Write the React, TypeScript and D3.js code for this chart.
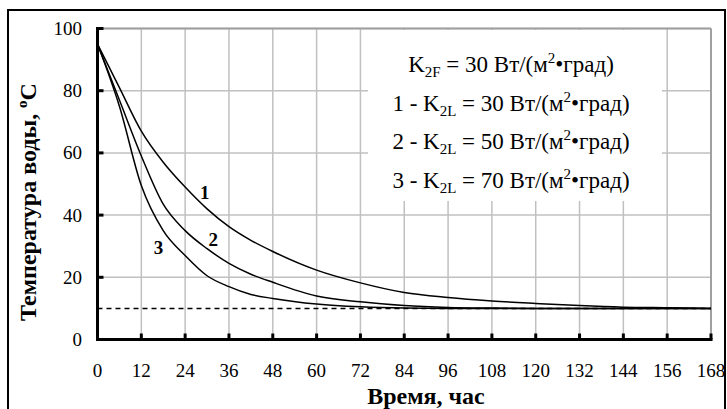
import React from "react";
import * as d3 from "d3";

// time, hours
const hours = [0, 6, 12, 18, 24, 30, 36, 42, 48, 60, 72, 84, 96, 108, 120, 132, 144, 156, 168];
// water temperature, °C
const curve1 = [95, 81, 67, 57, 49, 42, 36.3, 31.9, 28.3, 22.3, 18.2, 15.1, 13.5, 12.4, 11.6, 10.9, 10.4, 10.2, 10];
const curve2 = [95, 77, 59, 43.5, 35, 29.2, 24.5, 21, 18.4, 14, 12.1, 10.9, 10.3, 10.1, 10, 10, 10, 10, 10];
const curve3 = [95, 75, 49.5, 35, 27, 20.5, 17, 14.5, 13.2, 11.4, 10.5, 10.1, 10, 10, 10, 10, 10, 10, 10];
const limitTemp = 10;

const xTicks = d3.range(0, 169, 12);
const yTicks = [0, 20, 40, 60, 80, 100];

const curveLabels = [
  { text: "1", t: 29.4, v: 47.4 },
  { text: "2", t: 31.7, v: 32 },
  { text: "3", t: 16.7, v: 29.5 },
];

const legendLines = [
  { pre: "", sub: "2F", val: "30" },
  { pre: "1 - ", sub: "2L", val: "30" },
  { pre: "2 - ", sub: "2L", val: "50" },
  { pre: "3 - ", sub: "2L", val: "70" },
];

const font = "Liberation Serif";

export default function App() {
  const x = d3.scaleLinear().domain([0, 168]).range([97.5, 711]);
  const y = d3.scaleLinear().domain([0, 100]).range([339.5, 28.5]);

  const line = d3
    .line<number>()
    .x((_, i) => x(hours[i]))
    .y((d) => y(d))
    .curve(d3.curveMonotoneX);

  const series = [curve1, curve2, curve3];

  return (
    <svg width={727} height={409} style={{ position: "absolute", left: 0, top: 0, background: "#fff" }}>
      <rect x={0} y={0} width={727} height={409} fill="#fff" />
      {/* outer frame */}
      <rect x={8} y={10} width={717} height={420} fill="none" stroke="#000" strokeWidth={2} />

      {/* grid */}
      {xTicks.map((t) => (
        <line key={"gx" + t} x1={x(t)} x2={x(t)} y1={y(0)} y2={y(100)} stroke="#c0c0c0" strokeWidth={1.5} />
      ))}
      {yTicks.map((v) => (
        <line key={"gy" + v} x1={x(0)} x2={x(168)} y1={y(v)} y2={y(v)} stroke="#c0c0c0" strokeWidth={1.5} />
      ))}
      {/* plot border top/right */}
      <line x1={x(0)} x2={x(168)} y1={y(100)} y2={y(100)} stroke="#a0a0a0" strokeWidth={2} />
      <line x1={x(168)} x2={x(168)} y1={y(100)} y2={y(0)} stroke="#a0a0a0" strokeWidth={2} />

      {/* legend box */}
      <rect x={368} y={30} width={294} height={171} fill="#fff" />
      {legendLines.map((l, i) => (
        <text key={i} x={511} y={72 + i * 38.5} textAnchor="middle" style={{ fontFamily: font, fontSize: 23 }}>
          {l.pre}K
          <tspan style={{ fontSize: 15 }} dy={5}>{l.sub}</tspan>
          <tspan dy={-5}>{" = " + l.val + " Вт/(м"}</tspan>
          <tspan style={{ fontSize: 15 }} dy={-9}>2</tspan>
          <tspan dy={9}>•град)</tspan>
        </text>
      ))}

      {/* limit line */}
      <line
        x1={x(0)}
        x2={x(168)}
        y1={y(limitTemp)}
        y2={y(limitTemp)}
        stroke="#000"
        strokeWidth={1.5}
        strokeDasharray="5,4"
      />

      {/* curves */}
      {series.map((s, i) => (
        <path key={i} d={line(s) || ""} fill="none" stroke="#000" strokeWidth={1.5} />
      ))}
      {curveLabels.map((c) => (
        <text
          key={c.text}
          x={x(c.t)}
          y={y(c.v)}
          textAnchor="middle"
          dominantBaseline="central"
          style={{ fontFamily: font, fontSize: 19, fontWeight: "bold" }}
        >
          {c.text}
        </text>
      ))}

      {/* axes */}
      <line x1={x(0)} x2={x(0)} y1={y(100) - 1.5} y2={y(0) + 1.5} stroke="#000" strokeWidth={3} />
      <line x1={x(0) - 1.5} x2={x(168) + 1.5} y1={y(0)} y2={y(0)} stroke="#000" strokeWidth={3} />
      {yTicks.map((v) => (
        <line key={"ty" + v} x1={x(0)} x2={x(0) + 6} y1={y(v)} y2={y(v)} stroke="#000" strokeWidth={3} />
      ))}
      {xTicks.map((t) => (
        <line key={"tx" + t} x1={x(t)} x2={x(t)} y1={y(0)} y2={y(0) - 6} stroke="#000" strokeWidth={3} />
      ))}

      {/* tick labels */}
      {yTicks.map((v) => (
        <text key={"ly" + v} x={82} y={y(v) + 6.5} textAnchor="end" style={{ fontFamily: font, fontSize: 19 }}>
          {v}
        </text>
      ))}
      {xTicks.map((t) => (
        <text key={"lx" + t} x={x(t)} y={377} textAnchor="middle" style={{ fontFamily: font, fontSize: 19 }}>
          {t}
        </text>
      ))}

      {/* axis titles */}
      <text x={426} y={404} textAnchor="middle" style={{ fontFamily: font, fontSize: 24, fontWeight: "bold" }}>
        Время, час
      </text>
      <text
        transform={`translate(36, 202) rotate(-90)`}
        textAnchor="middle"
        style={{ fontFamily: font, fontSize: 24, fontWeight: "bold" }}
      >
        Температура воды, <tspan style={{ fontSize: 15 }} dy={-9}>o</tspan>
        <tspan dy={9}>C</tspan>
      </text>
    </svg>
  );
}
